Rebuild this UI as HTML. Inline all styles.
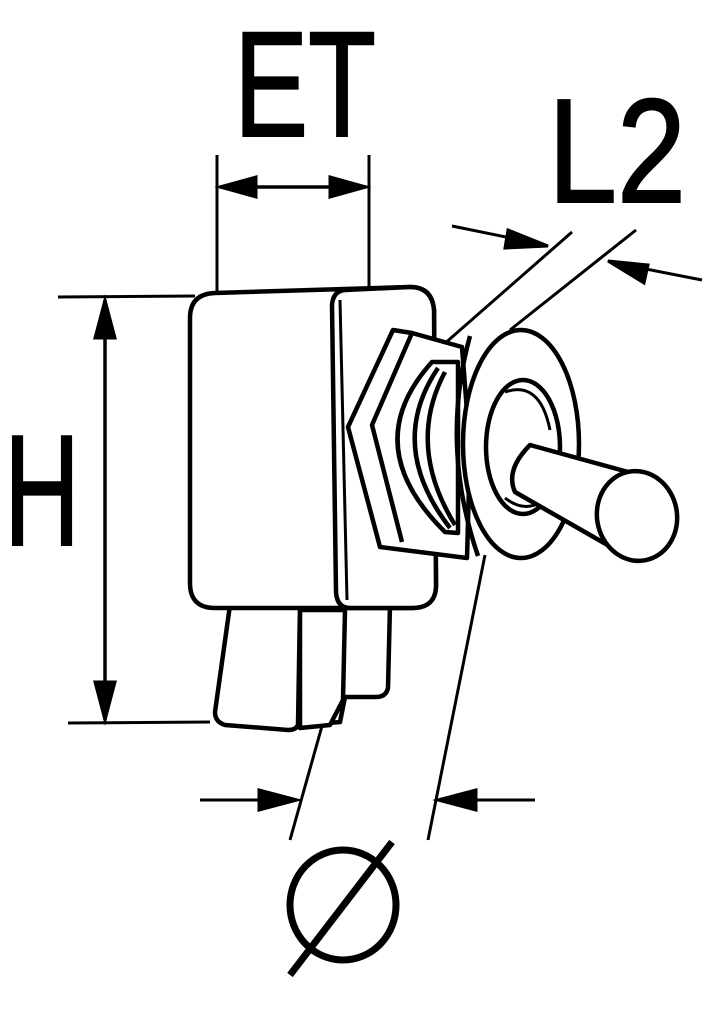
<!DOCTYPE html>
<html><head><style>
html,body{margin:0;padding:0;background:#fff;}
svg{display:block}
text{font-family:"Liberation Sans",sans-serif;font-weight:normal;fill:#000;stroke:#000;stroke-width:2}
</style></head><body>
<svg width="703" height="1031" viewBox="0 0 703 1031" xmlns="http://www.w3.org/2000/svg">
<text x="234" y="136" font-size="150" textLength="142" lengthAdjust="spacingAndGlyphs">ET</text>
<text x="548" y="202" font-size="148" textLength="138" lengthAdjust="spacingAndGlyphs">L2</text>
<text x="4" y="545" font-size="158" textLength="76" lengthAdjust="spacingAndGlyphs">H</text>
<g stroke="#000" stroke-width="3" fill="none">
<line x1="217" y1="155" x2="217" y2="292"/>
<line x1="369" y1="155" x2="369" y2="287"/>
<line x1="220" y1="187" x2="366" y2="187" stroke-width="3.5"/>
<path d="M220,187 l36,-10 v20z M366,187 l-36,-10 v20z" fill="#000"/>
<line x1="58" y1="297" x2="195" y2="296"/>
<line x1="68" y1="723" x2="210" y2="722"/>
<line x1="105" y1="300" x2="105" y2="720" stroke-width="3.5"/>
<path d="M105,300 l-10,38 h20z M105,720 l-10,-38 h20z" fill="#000"/>
<line x1="435" y1="352" x2="572" y2="232"/>
<line x1="510" y1="330" x2="636" y2="230"/>
<line x1="452" y1="226" x2="545" y2="245"/>
<path d="M548,246 l-40,-16 -3,18z" fill="#000"/>
<line x1="702" y1="280" x2="610" y2="262"/>
<path d="M608,261 l40,4 -4,18z" fill="#000"/>
<line x1="290" y1="840" x2="370" y2="555"/>
<line x1="428" y1="840" x2="485" y2="555"/>
<line x1="200" y1="800" x2="295" y2="800"/>
<path d="M297,800 l-38,-10 v20z" fill="#000"/>
<line x1="535" y1="800" x2="440" y2="800"/>
<path d="M438,800 l38,-10 v20z" fill="#000"/>
</g>
<g stroke="#000" stroke-width="7" fill="none">
<ellipse cx="343" cy="905" rx="53" ry="55"/>
<line x1="290" y1="975" x2="392" y2="842"/>
</g>
<g stroke="#000" stroke-width="4.5" fill="#fff" stroke-linejoin="round">
<path d="M310,605 L390,605 L388,688 Q386,697 376,697 L345,697 L340,722 L305,725 Z"/>
<path d="M300,610 L345,610 L343,700 L330,725 L300,728 Z"/>
<path d="M230,605 L300,605 L298,725 Q296,730 288,730 L225,725 Q215,722 215,712 Z"/>
<path d="M215,293 L410,287 Q432,287 434,310 L436,585 Q436,608 412,608 L215,608 Q190,608 190,583 L190,318 Q190,294 215,293 Z"/>
<path d="M345,290 L410,287 Q432,287 434,310 L436,585 Q436,608 412,608 L350,608 Q337,608 336,592 L332,305 Q333,291 345,290 Z"/>
<line x1="340" y1="300" x2="347" y2="600" stroke-width="3"/>
<!-- hex nut -->
<path d="M393,330 L412,333 L462,347 L470,450 L467,558 L380,547 L348,427 Z"/>
<path d="M412,333 L372,425 L402,542" fill="none"/>
<!-- threads -->
<path d="M440,362 L432,362 Q357,445 445,532 L458,533 L458,362 Z"/>
<path d="M438,368 Q386,445 450,528" fill="none"/>
<path d="M445,372 Q406,445 455,525" fill="none"/>
<!-- washer -->
<path d="M470,336 Q440,445 478,556" fill="none"/>
<ellipse cx="521" cy="444" rx="58" ry="114"/>
<ellipse cx="523" cy="447" rx="37" ry="67"/>
<path d="M505,392 Q540,380 550,430" fill="none" stroke-width="3"/>
<!-- lever -->
<path d="M530,445 L650,478 L625,555 L515,492 Q505,470 530,445 Z"/>
<path d="M505,498 Q520,510 535,505" fill="none" stroke-width="3"/>
<ellipse cx="637" cy="516" rx="40" ry="45" transform="rotate(-10 637 516)"/>
</g>
</svg>
</body></html>
